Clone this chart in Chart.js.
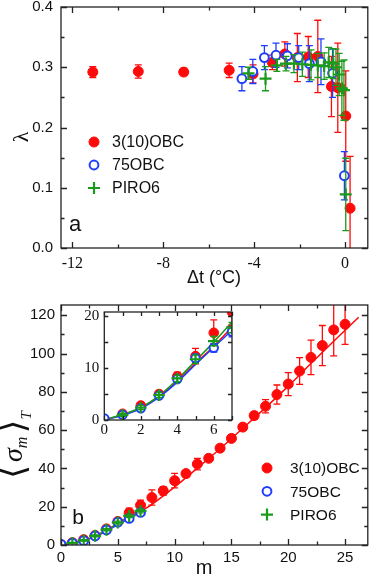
<!DOCTYPE html>
<html>
<head>
<meta charset="utf-8">
<script src="https://cdn.jsdelivr.net/npm/chart.js@4.4.1/dist/chart.umd.min.js"></script>
<style>
  html, body { margin: 0; padding: 0; background: #fff; }
  #page { position: relative; width: 376px; height: 578px; overflow: hidden; background: #fff; }
  .box { position: absolute; }
</style>
</head>
<body>
<div id="page">
  <div class="box" style="left:0; top:-10px; width:376px; height:300px;"><canvas id="chartA"></canvas></div>
  <div class="box" style="left:0; top:290px; width:376px; height:288px;"><canvas id="chartB"></canvas></div>
  <div class="box" style="left:70px; top:298px; width:170px; height:145px;"><canvas id="chartInset"></canvas></div>
</div>
<script>
// ---- panel a : lambda vs delta t ----
const aRedX   = [-11.1, -9.1, -7.1, -5.1, -4.05, -3.2, -2.65, -2.1, -1.62, -1.2, -0.6, -0.32, 0.03, 0.22]
const aRedY   = [0.292, 0.293, 0.292, 0.295, 0.289, 0.308, 0.322, 0.316, 0.317, 0.318, 0.268, 0.266, 0.219, 0.066]
const aRedErr = [0.009, 0.011, 0.006, 0.012, 0.015, 0.012, 0.02, 0.04, 0.034, 0.06, 0.05, 0.074, 0.075, 0.086]

const aBlueX   = [-4.54, -4.06, -3.55, -3.04, -2.54, -2.04, -1.57, -1.06, -0.55, -0.03]
const aBlueY   = [0.281, 0.293, 0.316, 0.320, 0.319, 0.316, 0.306, 0.309, 0.290, 0.120]
const aBlueErr = [0.02, 0.02, 0.02, 0.02, 0.02, 0.02, 0.03, 0.038, 0.04, 0.04]

const aGreenX   = [-4.25, -3.5, -3.0, -2.6, -2.25, -1.88, -1.5, -1.2, -0.92, -0.72, -0.52, -0.4, -0.26, -0.14, -0.05, 0.03]
const aGreenY   = [0.290, 0.281, 0.303, 0.306, 0.306, 0.305, 0.304, 0.303, 0.302, 0.308, 0.306, 0.300, 0.288, 0.265, 0.262, 0.089]
const aGreenErr = [0.01, 0.02, 0.01, 0.012, 0.015, 0.02, 0.025, 0.02, 0.022, 0.025, 0.025, 0.03, 0.035, 0.045, 0.05, 0.06]

const aXTicks = [-12, -8, -4, 0]
const aYTicks = [0, 0.1, 0.2, 0.3, 0.4]

// ---- panel b : <sigma_m>_T vs m ----
const bRedM   = [0, 1, 2, 3, 4, 5, 6, 7, 8, 9, 10, 11, 12, 13, 14, 15, 16, 17, 18, 19, 20, 21, 22, 23, 24, 25]
const bRedY   = [0.2, 1.2, 2.8, 5.0, 8.4, 12.3, 16.8, 20.8, 24.8, 28.3, 33.6, 37.3, 42.3, 45.3, 50.6, 55.7, 61.6, 67.6, 72.5, 78.6, 84.1, 90.9, 98.0, 104.2, 112.4, 115.3]
const bRedErr = [0.2, 0.3, 0.4, 0.6, 0.8, 1.5, 2.5, 2.6, 4, 2.2, 3.8, 1.7, 3, 1.2, 1.2, 1.2, 1.5, 2, 3.5, 5, 6, 7, 9, 10.5, 13.6, 10.5]

const bBlueM   = [0, 1, 2, 3, 4, 5, 6, 7]
const bBlueY   = [0.3, 1.0, 2.25, 4.7, 7.9, 11.9, 13.9, 17.0]
const bBlueErr = [0.2, 0.3, 0.4, 0.5, 0.6, 0.8, 0.8, 1.0]

const bGreenM   = [1, 2, 3, 4, 5, 6, 7]
const bGreenY   = [1.0, 2.4, 4.8, 8.0, 11.7, 15.2, 17.8]
const bGreenErr = [0.3, 0.4, 0.5, 0.6, 0.8, 0.9, 1.0]

// fitted curves
const fitRedM = [0, 1, 2, 3, 4, 5, 6, 7, 8, 10, 12, 14, 16, 18, 20, 22, 24, 26.2]
const fitRedY = [0, 1.0, 2.3, 4.5, 7.5, 10.9, 14.2, 17.5, 21.2, 30.3, 40.2, 50.3, 61, 71.8, 83, 94.8, 106.5, 119]
const fitSmallM = [0, 1, 2, 3, 4, 5, 6, 7]
const fitSmallRed   = [0, 1.0, 2.3, 4.5, 7.5, 10.9, 14.2, 17.9]
const fitSmallBlue  = [0, 0.9, 2.2, 4.4, 7.3, 10.7, 14.0, 17.3]
const fitSmallGreen = [0, 1.05, 2.4, 4.7, 7.8, 11.4, 15.0, 18.9]

const bXTicks = [0, 5, 10, 15, 20, 25]
const bYTicks = [0, 20, 40, 60, 80, 100, 120]
const insetXTicks = [0, 2, 4, 6]
const insetYTicks = [0, 10, 20]

const RED = '#ff0a0a'
const BLUE = '#1f3dff'
const GREEN = '#1b9a1b'
const SANS = '"Liberation Sans", Arial, sans-serif'
const SERIF = '"Liberation Serif", "Times New Roman", serif'

function pts(xs, ys) { return xs.map((x, i) => ({ x: x, y: ys[i] })) }
function range(a, b, s) { const out = []; for (let v = a; v <= b + 1e-9; v += s) out.push(+v.toFixed(4)); return out }

// vertical error bars, drawn right before each dataset so the stacking follows the markers
const errorBars = {
  id: 'errorBars',
  beforeDatasetDraw(chart, args) {
    const ds = chart.data.datasets[args.index]
    if (!ds.errors) return
    const ctx = chart.ctx, ys = chart.scales.y, area = chart.chartArea
    const cap = ds.capWidth || 3.5
    ctx.save()
    ctx.beginPath()
    ctx.rect(area.left, area.top, area.width, area.height)
    ctx.clip()
    ctx.strokeStyle = ds.borderColor
    ctx.lineWidth = 1.3
    args.meta.data.forEach((p, i) => {
      const e = ds.errors[i]
      if (!e) return
      const v = ds.data[i].y
      const t = ys.getPixelForValue(v + e), b = ys.getPixelForValue(v - e)
      ctx.beginPath()
      ctx.moveTo(p.x, t); ctx.lineTo(p.x, b)
      ctx.moveTo(p.x - cap, t); ctx.lineTo(p.x + cap, t)
      ctx.moveTo(p.x - cap, b); ctx.lineTo(p.x + cap, b)
      ctx.stroke()
    })
    ctx.restore()
  }
}

// closed frame with inward ticks on all four sides
const frame = {
  id: 'frame',
  beforeDatasetsDraw(chart, args, o) {
    if (!o.fill) return
    const a = chart.chartArea
    chart.ctx.save()
    chart.ctx.fillStyle = o.fill
    chart.ctx.fillRect(a.left, a.top, a.width, a.height)
    chart.ctx.restore()
  },
  afterDatasetsDraw(chart, args, o) {
    if (!o.xMajor) return
    const ctx = chart.ctx, a = chart.chartArea, x = chart.scales.x, y = chart.scales.y
    ctx.save()
    ctx.strokeStyle = '#222'
    ctx.lineWidth = o.lw || 1.3
    ctx.beginPath()
    const xt = (list, len) => list.forEach(v => {
      const px = Math.round(x.getPixelForValue(v)) + 0.5
      ctx.moveTo(px, a.bottom); ctx.lineTo(px, a.bottom - len)
      ctx.moveTo(px, a.top); ctx.lineTo(px, a.top + len)
    })
    const yt = (list, len) => list.forEach(v => {
      const py = Math.round(y.getPixelForValue(v)) + 0.5
      ctx.moveTo(a.left, py); ctx.lineTo(a.left + len, py)
      ctx.moveTo(a.right, py); ctx.lineTo(a.right - len, py)
    })
    xt(o.xMajor, o.major); xt(o.xMinor, o.minor)
    yt(o.yMajor, o.major); yt(o.yMinor, o.minor)
    ctx.stroke()
    ctx.strokeRect(a.left, a.top, a.width, a.height)
    ctx.restore()
  }
}

// legend inside the plot + free text (panel letters, axis titles)
const notes = {
  id: 'notes',
  afterDraw(chart, args, o) {
    const ctx = chart.ctx
    ctx.save()
    if (o.key) {
      o.key.items.forEach((idx, k) => {
        const ds = chart.data.datasets[idx]
        const yy = o.key.y + k * o.key.dy
        ctx.fillStyle = ds.backgroundColor
        ctx.strokeStyle = ds.borderColor
        ctx.lineWidth = ds.borderWidth
        Chart.helpers.drawPoint(ctx, { pointStyle: ds.pointStyle, radius: ds.pointRadius, borderWidth: ds.borderWidth, rotation: 0 }, o.key.x, yy)
        ctx.fillStyle = '#111'
        ctx.font = o.key.font
        ctx.textAlign = 'left'
        ctx.textBaseline = 'middle'
        ctx.fillText(ds.label, o.key.tx, yy + 1)
      })
    }
    (o.texts || []).forEach(t => {
      ctx.save()
      ctx.translate(t.x, t.y)
      if (t.rotate) ctx.rotate(t.rotate)
      ctx.fillStyle = '#111'
      ctx.textBaseline = 'middle'
      ctx.textAlign = t.align || 'center'
      if (t.parts) {
        let cx = t.start
        t.parts.forEach(p => {
          ctx.font = p.font
          ctx.textAlign = 'left'
          ctx.fillText(p.text, cx, p.dy || 0)
          cx += ctx.measureText(p.text).width + (p.gap || 0)
        })
      } else {
        ctx.font = t.font
        ctx.fillText(t.text, 0, 0)
      }
      ctx.restore()
    })
    ctx.restore()
  }
}

Chart.register(errorBars, frame, notes)

function markerSet(label, data, errs, kind, order, radius) {
  const ds = { label: label, data: data, errors: errs, order: order, showLine: false }
  if (kind === 'red') Object.assign(ds, { pointStyle: 'circle', backgroundColor: RED, borderColor: RED, borderWidth: 1, pointRadius: radius })
  if (kind === 'blue') Object.assign(ds, { pointStyle: 'circle', backgroundColor: '#fff', borderColor: BLUE, borderWidth: 2, pointRadius: radius - 0.6 })
  if (kind === 'green') Object.assign(ds, { pointStyle: 'cross', backgroundColor: GREEN, borderColor: GREEN, borderWidth: 2.2, pointRadius: radius + 1 })
  return ds
}

function fitSet(ms, ys, color, order) {
  return { data: pts(ms, ys), showLine: true, borderColor: color, borderWidth: 1.5, pointRadius: 0,
    cubicInterpolationMode: 'monotone', order: order, fill: false }
}

const baseOpts = {
  animation: false,
  responsive: true,
  maintainAspectRatio: false,
  events: [],
}

// ---------- chart a ----------
new Chart(document.getElementById('chartA'), {
  type: 'scatter',
  data: {
    datasets: [
      markerSet('3(10)OBC', pts(aRedX, aRedY), aRedErr, 'red', 3, 5),
      markerSet('75OBC', pts(aBlueX, aBlueY), aBlueErr, 'blue', 2, 5),
      markerSet('PIRO6', pts(aGreenX, aGreenY), aGreenErr, 'green', 1, 5)
    ]
  },
  options: Object.assign({}, baseOpts, {
    layout: { padding: { left: 0, right: 4, top: 17, bottom: 0 } },
    scales: {
      x: {
        type: 'linear', min: -12.5, max: 1,
        afterBuildTicks: s => { s.ticks = aXTicks.map(v => ({ value: v })) },
        afterFit: s => { s.height = 42 },
        grid: { display: false, drawTicks: false }, border: { display: false },
        ticks: { font: { family: SERIF, size: 16 }, color: '#111', padding: 6 }
      },
      y: {
        type: 'linear', min: 0, max: 0.4,
        afterBuildTicks: s => { s.ticks = aYTicks.map(v => ({ value: v })) },
        afterFit: s => { s.width = 61 },
        grid: { display: false, drawTicks: false }, border: { display: false },
        ticks: { font: { family: SANS, size: 15 }, color: '#111', padding: 8, callback: v => v.toFixed(1) }
      }
    },
    plugins: {
      legend: { display: false }, tooltip: { enabled: false },
      frame: { xMajor: aXTicks, xMinor: [-10, -6, -2], yMajor: aYTicks, yMinor: [0.05, 0.15, 0.25, 0.35], major: 6, minor: 3.5 },
      notes: {
        key: { items: [0, 1, 2], x: 94, y: 152, dy: 23, tx: 112, font: '16px ' + SANS },
        texts: [
          { text: 'a', x: 75, y: 235, font: '22px ' + SANS },
          { text: 'Δt (°C)', x: 214, y: 288, font: '18px ' + SANS },
          { text: 'λ', x: 22, y: 147, rotate: -Math.PI / 2, font: '22px ' + SERIF }
        ]
      }
    }
  })
})

// ---------- chart b ----------
new Chart(document.getElementById('chartB'), {
  type: 'scatter',
  data: {
    datasets: [
      markerSet('3(10)OBC', pts(bRedM, bRedY), bRedErr, 'red', 3, 5),
      markerSet('75OBC', pts(bBlueM, bBlueY), bBlueErr, 'blue', 2, 5),
      markerSet('PIRO6', pts(bGreenM, bGreenY), bGreenErr, 'green', 1, 5),
      fitSet(fitRedM, fitRedY, RED, 6),
      fitSet(fitSmallM, fitSmallBlue, BLUE, 5),
      fitSet(fitSmallM, fitSmallGreen, GREEN, 4)
    ]
  },
  options: Object.assign({}, baseOpts, {
    layout: { padding: { left: 0, right: 4, top: 14, bottom: 0 } },
    scales: {
      x: {
        type: 'linear', min: 0, max: 27,
        afterBuildTicks: s => { s.ticks = bXTicks.map(v => ({ value: v })) },
        afterFit: s => { s.height = 33 },
        grid: { display: false, drawTicks: false }, border: { display: false },
        ticks: { font: { family: SANS, size: 15 }, color: '#111', padding: 4 }
      },
      y: {
        type: 'linear', min: 0, max: 125.4,
        afterBuildTicks: s => { s.ticks = bYTicks.map(v => ({ value: v })) },
        afterFit: s => { s.width = 61 },
        grid: { display: false, drawTicks: false }, border: { display: false },
        ticks: { font: { family: SANS, size: 15 }, color: '#111', padding: 6 }
      }
    },
    plugins: {
      legend: { display: false }, tooltip: { enabled: false },
      frame: { xMajor: bXTicks, xMinor: [2.5, 7.5, 12.5, 17.5, 22.5], yMajor: bYTicks, yMinor: [10, 30, 50, 70, 90, 110], major: 6, minor: 3.5 },
      notes: {
        key: { items: [0, 1, 2], x: 267, y: 178, dy: 23.3, tx: 290, font: '15.5px ' + SANS },
        texts: [
          { text: 'b', x: 78, y: 228, font: '21px ' + SANS },
          { text: 'm', x: 204, y: 278, font: '20px ' + SANS },
          { x: 15, y: 127, rotate: -Math.PI / 2, start: -62, parts: [
            { text: '⟨', font: '36px "DejaVu Serif", serif', gap: 3 },
            { text: 'σ', font: 'italic 28px ' + SERIF, dy: 0 },
            { text: 'm', font: 'italic 16px ' + SERIF, dy: 8, gap: 3 },
            { text: '⟩', font: '36px "DejaVu Serif", serif' },
            { text: 'T', font: 'italic 15px ' + SERIF, dy: 12 }
          ] }
        ]
      }
    }
  })
})

// ---------- inset ----------
new Chart(document.getElementById('chartInset'), {
  type: 'scatter',
  data: {
    datasets: [
      markerSet('3(10)OBC', pts(bRedM.slice(0, 8), bRedY.slice(0, 8)), bRedErr.slice(0, 8), 'red', 3, 4.8),
      markerSet('75OBC', pts(bBlueM, bBlueY), bBlueErr, 'blue', 2, 4.8),
      markerSet('PIRO6', pts(bGreenM, bGreenY), bGreenErr, 'green', 1, 4.8),
      fitSet(fitSmallM, fitSmallRed, RED, 6),
      fitSet(fitSmallM, fitSmallBlue, BLUE, 5),
      fitSet(fitSmallM, fitSmallGreen, GREEN, 4)
    ]
  },
  options: Object.assign({}, baseOpts, {
    layout: { padding: { left: 0, right: 4.3, top: 14, bottom: 0 } },
    scales: {
      x: {
        type: 'linear', min: 0, max: 7,
        afterBuildTicks: s => { s.ticks = insetXTicks.map(v => ({ value: v })) },
        afterFit: s => { s.height = 23 },
        grid: { display: false, drawTicks: false }, border: { display: false },
        ticks: { font: { family: SERIF, size: 15 }, color: '#111', padding: 1 }
      },
      y: {
        type: 'linear', min: 0, max: 20.8,
        afterBuildTicks: s => { s.ticks = insetYTicks.map(v => ({ value: v })) },
        afterFit: s => { s.width = 34.3 },
        grid: { display: false, drawTicks: false }, border: { display: false },
        ticks: { font: { family: SERIF, size: 15 }, color: '#111', padding: 5 }
      }
    },
    plugins: {
      legend: { display: false }, tooltip: { enabled: false },
      frame: { fill: '#fff', xMajor: range(0, 7, 1), xMinor: [], yMajor: [0, 5, 10, 15, 20], yMinor: [], major: 4, minor: 2, lw: 1.3 }
    }
  })
})
</script>
</body>
</html>
